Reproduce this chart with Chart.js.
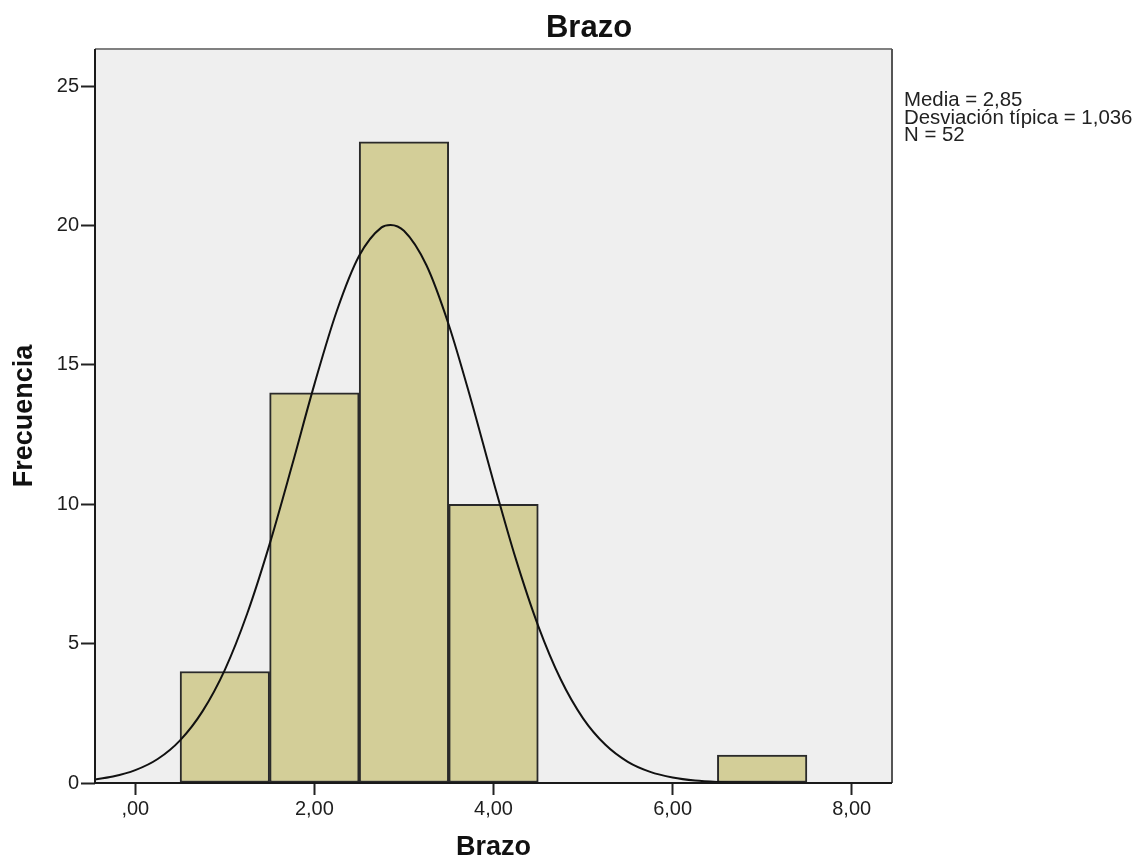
<!DOCTYPE html>
<html>
<head>
<meta charset="utf-8">
<title>Brazo</title>
<script src="https://cdn.jsdelivr.net/npm/chart.js@4/dist/chart.umd.min.js"></script>
<style>
    body { margin: 0; background: #fff; }
</style>
</head>
<body>
<canvas id="myChart" width="1140" height="861"></canvas>
<script>
/*-------------------------------------------------------------------------------
 DATA
 -------------------------------------------------------------------------------*/

// histogram bins (centre of each bar) and frequencies
let binCenters = [1, 2, 3, 4, 7];
let frequencies = [4, 14, 23, 10, 1];

// normal curve
let curveX = [-0.5, -0.25, 0, 0.25, 0.5, 0.75, 1, 1.25, 1.5, 1.75, 2, 2.25, 2.5, 2.75, 2.85,
    3, 3.25, 3.5, 3.75, 4, 4.25, 4.5, 4.75, 5, 5.25, 5.5, 5.75, 6, 6.25, 6.5, 6.75, 7,
    7.25, 7.5, 7.75, 8, 8.25, 8.5];
let curveY = [0.11, 0.23, 0.46, 0.86, 1.53, 2.57, 4.06, 6.08, 8.57, 11.39, 14.30, 16.93, 18.91, 19.93, 20.02,
    19.81, 18.58, 16.44, 13.73, 10.81, 8.03, 5.63, 3.72, 2.32, 1.37, 0.76, 0.40, 0.20, 0.09, 0.04, 0.02, 0.01,
    0, 0, 0, 0, 0, 0];

let xTicks = [0, 2, 4, 6, 8];
let yTicks = [0, 5, 10, 15, 20, 25];

let chartTitle = 'Brazo';
let statsLines = ['Media = 2,85', 'Desviación típica = 1,036', 'N = 52'];


/*-------------------------------------------------------------------------------
 PLOT FRAME, TITLE, STATS
 -------------------------------------------------------------------------------*/

let frame = {
    id: 'frame',
    beforeDatasetsDraw: function (chart) {
        let a = chart.chartArea;
        let ctx = chart.ctx;
        ctx.save();
        ctx.fillStyle = '#efefef';
        ctx.fillRect(a.left, a.top, a.right - a.left, a.bottom - a.top);
        ctx.restore();
    },
    afterDraw: function (chart) {
        let a = chart.chartArea;
        let ctx = chart.ctx;
        ctx.save();
        // borders
        ctx.lineWidth = 2;
        ctx.strokeStyle = '#808080';
        ctx.beginPath();
        ctx.moveTo(a.left, a.top);
        ctx.lineTo(a.right, a.top);
        ctx.stroke();
        ctx.strokeStyle = '#555';
        ctx.beginPath();
        ctx.moveTo(a.right, a.top);
        ctx.lineTo(a.right, a.bottom);
        ctx.stroke();
        ctx.strokeStyle = '#1a1a1a';
        ctx.beginPath();
        ctx.moveTo(a.left, a.top);
        ctx.lineTo(a.left, a.bottom);
        ctx.lineTo(a.right, a.bottom);
        ctx.stroke();

        // title
        ctx.fillStyle = '#111';
        ctx.font = 'bold 31px "Liberation Sans", Arial, sans-serif';
        ctx.textAlign = 'center';
        ctx.textBaseline = 'alphabetic';
        ctx.fillText(chartTitle, 589, 37);

        // stats text at the right
        ctx.fillStyle = '#222';
        ctx.font = '20.4px "Liberation Sans", Arial, sans-serif';
        ctx.textAlign = 'left';
        for (let i = 0; i < statsLines.length; i++) {
            ctx.fillText(statsLines[i], 904, 106 + i * 17.5);
        }
        ctx.restore();
    }
};


/*-------------------------------------------------------------------------------
 CHART
 -------------------------------------------------------------------------------*/

function drawHistogram() {
    let bars = [];
    for (let i = 0; i < binCenters.length; i++) {
        bars.push({x: binCenters[i], y: frequencies[i]});
    }
    let curve = [];
    for (let i = 0; i < curveX.length; i++) {
        curve.push({x: curveX[i], y: curveY[i]});
    }

    let tickFont = {family: '"Liberation Sans", Arial, sans-serif', size: 20};

    let ctx = document.getElementById('myChart').getContext('2d');
    let myChart = new Chart(ctx, {
        type: 'bar',
        data: {
            datasets: [{
                type: 'line',
                label: 'Normal',
                data: curve,
                borderColor: '#111',
                borderWidth: 2,
                pointRadius: 0,
                cubicInterpolationMode: 'monotone',
                fill: false,
                order: 0
            }, {
                type: 'bar',
                label: 'Brazo',
                data: bars,
                backgroundColor: '#d3ce98',
                borderColor: '#2a2a2a',
                borderWidth: 2,
                borderSkipped: false,
                barPercentage: 1,
                categoryPercentage: 1,
                order: 1
            }]
        },
        plugins: [frame],
        options: {
            responsive: false,
            animation: false,
            devicePixelRatio: 1,
            layout: {padding: {top: 49, right: 248, bottom: 0, left: 0}},
            plugins: {
                legend: {display: false},
                tooltip: {enabled: false}
            },
            scales: {
                x: {
                    type: 'linear',
                    offset: false,
                    min: -0.45,
                    max: 8.45,
                    afterBuildTicks: function (s) {
                        s.ticks = xTicks.map(function (v) { return {value: v}; });
                    },
                    afterFit: function (s) { s.height = 78; },
                    grid: {offset: false, drawOnChartArea: false, drawTicks: true, tickLength: 12, tickColor: '#222', tickWidth: 2},
                    border: {display: false},
                    ticks: {
                        font: tickFont,
                        color: '#1e1e1e',
                        padding: 2,
                        maxRotation: 0,
                        autoSkip: false,
                        callback: function (v) {
                            return v === 0 ? ',00' : v.toFixed(2).replace('.', ',');
                        }
                    },
                    title: {
                        display: true,
                        text: 'Brazo',
                        color: '#111',
                        font: {family: '"Liberation Sans", Arial, sans-serif', size: 27, weight: 'bold', lineHeight: 1},
                        padding: 0
                    }
                },
                y: {
                    min: 0,
                    max: 26.33,
                    afterBuildTicks: function (s) {
                        s.ticks = yTicks.map(function (v) { return {value: v}; });
                    },
                    afterFit: function (s) { s.width = 95; },
                    grid: {drawOnChartArea: false, drawTicks: true, tickLength: 14, tickColor: '#222', tickWidth: 2},
                    border: {display: false},
                    ticks: {font: tickFont, color: '#1e1e1e', padding: 2},
                    title: {
                        display: true,
                        text: 'Frecuencia',
                        color: '#111',
                        font: {family: '"Liberation Sans", Arial, sans-serif', size: 27, weight: 'bold'},
                        padding: {top: 8, bottom: 0}
                    }
                }
            }
        }
    });
}
drawHistogram();
</script>
</body>
</html>
